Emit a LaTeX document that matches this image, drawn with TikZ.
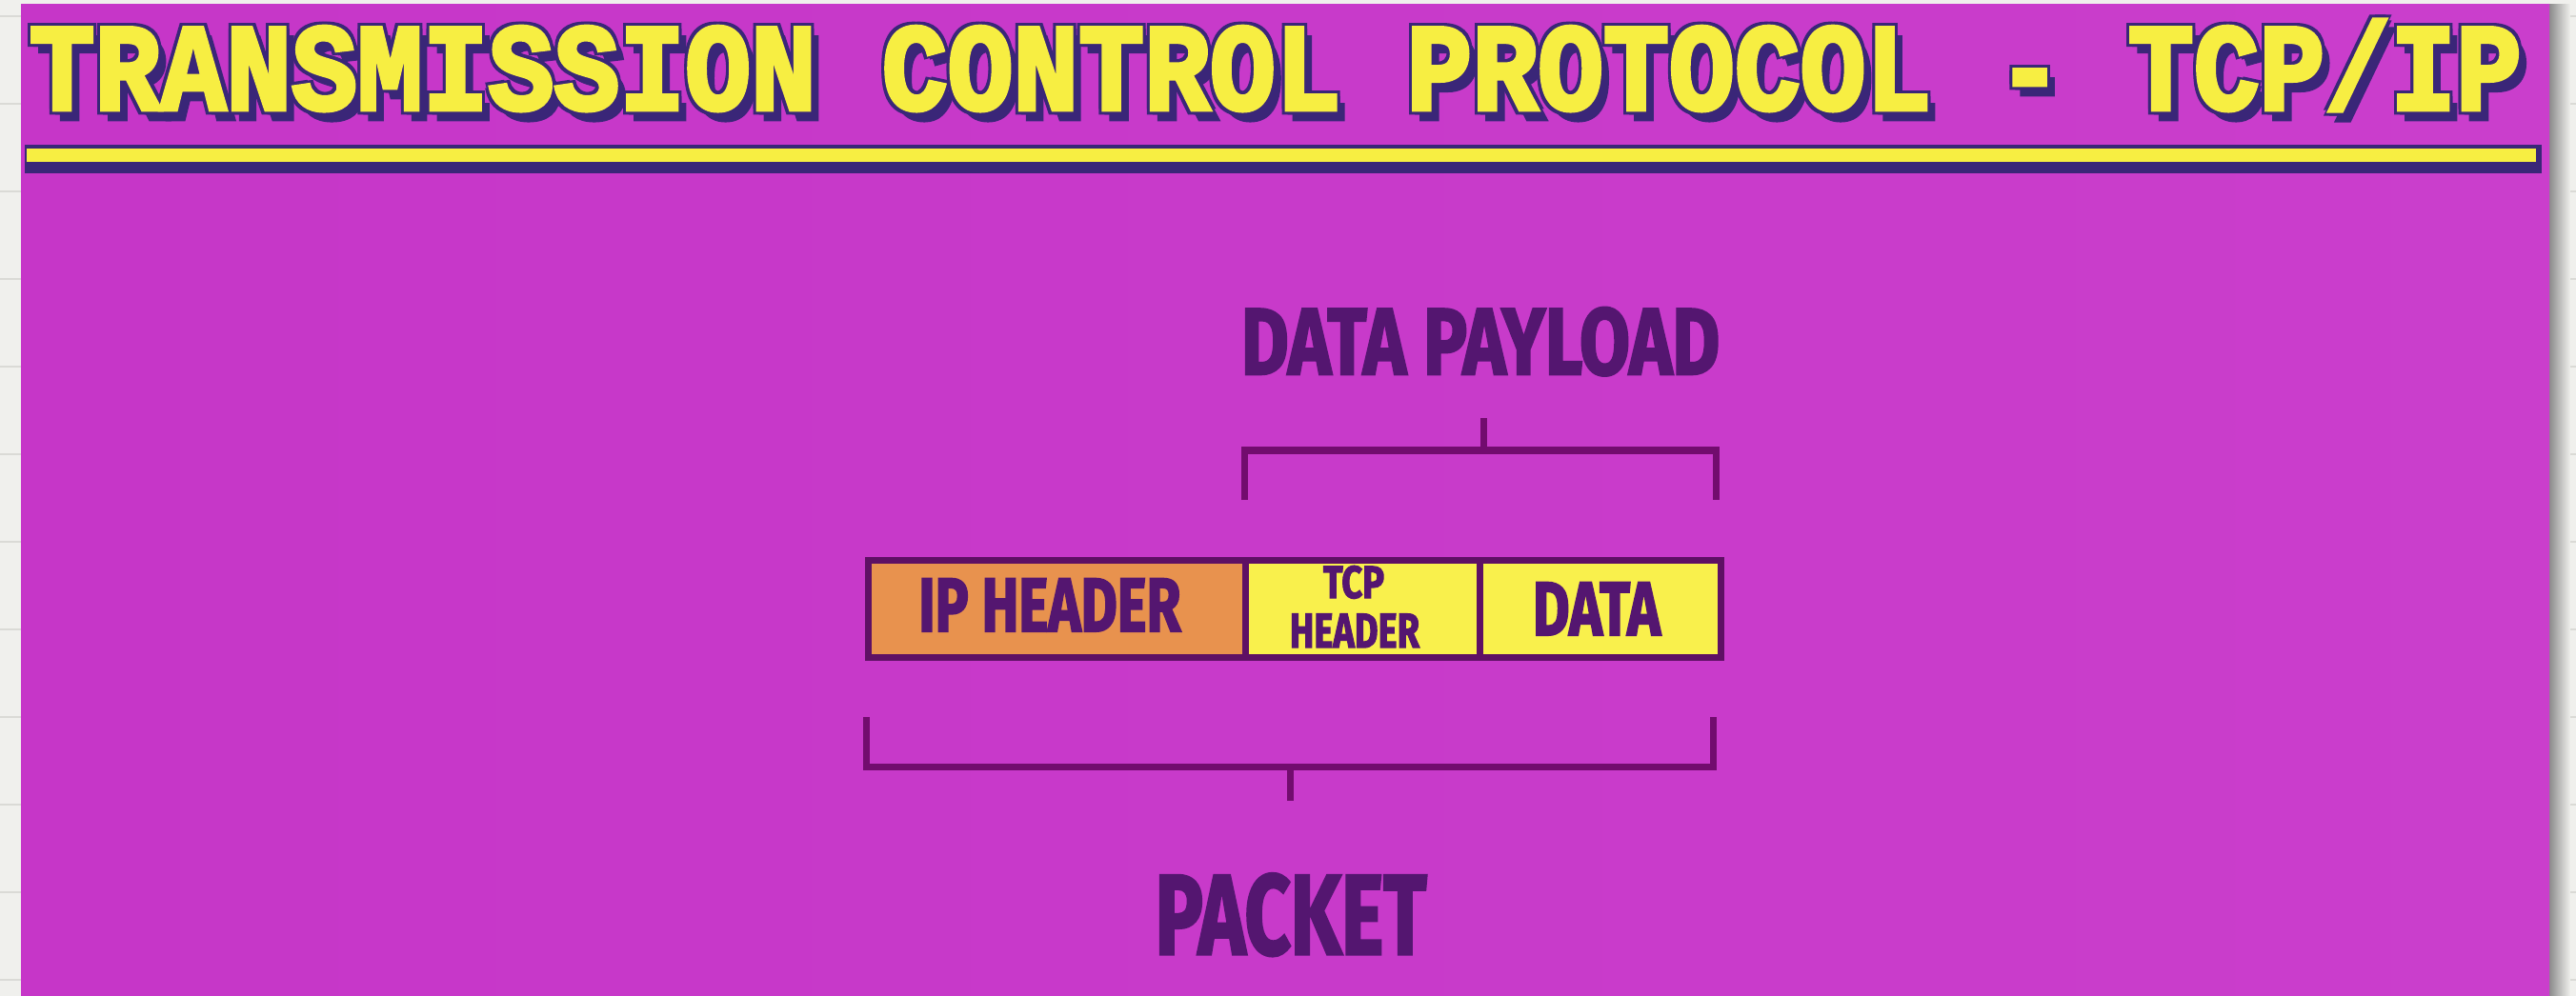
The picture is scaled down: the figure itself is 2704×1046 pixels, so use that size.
\documentclass[tikz,border=0pt]{standalone}
\usepackage{fontspec}
\usepackage{graphicx}
\newfontfamily\lblfont[FakeBold=2.6]{Fira Sans}
\newfontfamily\ttlfont[FakeBold=3.5]{Liberation Mono}
\definecolor{pagegray}{RGB}{240,240,237}
\definecolor{gridgray}{RGB}{218,218,214}
\definecolor{magL}{RGB}{198,54,200}
\definecolor{magM}{RGB}{212,90,216}
\definecolor{magR}{RGB}{202,62,204}
\definecolor{ttlyellow}{RGB}{247,238,66}
\definecolor{ttlshadow}{RGB}{58,38,120}
\definecolor{cellorange}{RGB}{232,146,78}
\definecolor{cellyellow}{RGB}{249,240,76}
\definecolor{cellborder}{RGB}{94,16,100}
\definecolor{lblpurple}{RGB}{84,22,112}
\definecolor{brkpurple}{RGB}{114,12,110}
\newcommand\fitlbl[3]{\resizebox{#1}{\height}{\fontsize{#2}{#2}\lblfont\bfseries #3}}
\newcommand\ttltext{\resizebox{26.15cm}{\height}{\fontsize{37pt}{42pt}\ttlfont\bfseries TRANSMISSION CONTROL PROTOCOL - TCP/IP}}
\begin{document}
\begin{tikzpicture}[x=0.01cm,y=-0.01cm,
  cell/.style={draw=cellborder, line width=0.07cm, inner sep=0pt, anchor=north west, minimum height=1.02cm},
  lbl/.style={text=lblpurple, inner sep=0pt, anchor=base},
  brk/.style={draw=brkpurple, line width=0.07cm, line join=miter, line cap=butt},
  ttl/.style={inner sep=0pt, anchor=base west}]
\useasboundingbox (0,0) rectangle (2704,1046);
% page around the frame
\fill[pagegray] (0,0) rectangle (2704,1046);
\foreach \k in {0,...,11} \draw[gridgray, line width=0.02cm] (0,17+92*\k) -- (2704,17+92*\k);
\shade[left color=black!45, right color=pagegray] (2676,5) rectangle (2698,1046);
% magenta frame
\shade[left color=magL, middle color=magM, right color=magR] (22,5) rectangle (2676,1046);
% title with shadow and outline
\node[ttl, text=ttlshadow] (ttlsh) at (38,125) {\ttltext};
\node[ttl, text=ttlshadow] (ttlo1) at (27,112) {\ttltext};
\node[ttl, text=ttlshadow] (ttlo2) at (33,112) {\ttltext};
\node[ttl, text=ttlshadow] (ttlo3) at (27,118) {\ttltext};
\node[ttl, text=ttlshadow] (ttlo4) at (33,118) {\ttltext};
\node[ttl, text=ttlyellow] (ttl) at (30,115) {\ttltext};
% header rule
\fill[ttlshadow] (26,152) rectangle (2668,182);
\fill[ttlyellow] (28,156) rectangle (2662,170);
% packet cells
\node[cell, fill=cellorange, minimum width=3.96cm] (ip) at (908,585) {};
\node[cell, fill=cellyellow, minimum width=2.46cm] (tcp) at (1304,585) {};
\node[cell, fill=cellyellow, minimum width=2.53cm] (data) at (1550,585) {};
% labels
\node[lbl] (iplbl) at (1102,663) {\fitlbl{2.75cm}{22.7pt}{IP HEADER}};
\node[lbl] (tcplbl) at (1421,628) {\fitlbl{0.64cm}{13.6pt}{TCP}};
\node[lbl] (hdrlbl) at (1422,680) {\fitlbl{1.36cm}{14.5pt}{HEADER}};
\node[lbl] (datalbl) at (1676,667) {\fitlbl{1.34cm}{22.7pt}{DATA}};
\node[lbl] (paylbl) at (1554,393) {\fitlbl{5.02cm}{28.1pt}{DATA PAYLOAD}};
\node[lbl] (pktlbl) at (1355,1002) {\fitlbl{2.85cm}{33.9pt}{PACKET}};
% data payload bracket
\coordinate (pay-l) at (1306,525);
\coordinate (pay-r) at (1801,525);
\coordinate (pay-m) at (1557,473);
\coordinate (pay-top) at (1557,439);
\draw[brk] (pay-l) -- (pay-l |- pay-m) -- (pay-r |- pay-m) -- (pay-r);
\draw[brk] (pay-m) -- (pay-top);
% packet bracket
\coordinate (pkt-l) at (909,753);
\coordinate (pkt-r) at (1798,753);
\coordinate (pkt-m) at (1354,805);
\coordinate (pkt-bot) at (1354,841);
\draw[brk] (pkt-l) -- (pkt-l |- pkt-m) -- (pkt-r |- pkt-m) -- (pkt-r);
\draw[brk] (pkt-m) -- (pkt-bot);
\end{tikzpicture}
\end{document}
